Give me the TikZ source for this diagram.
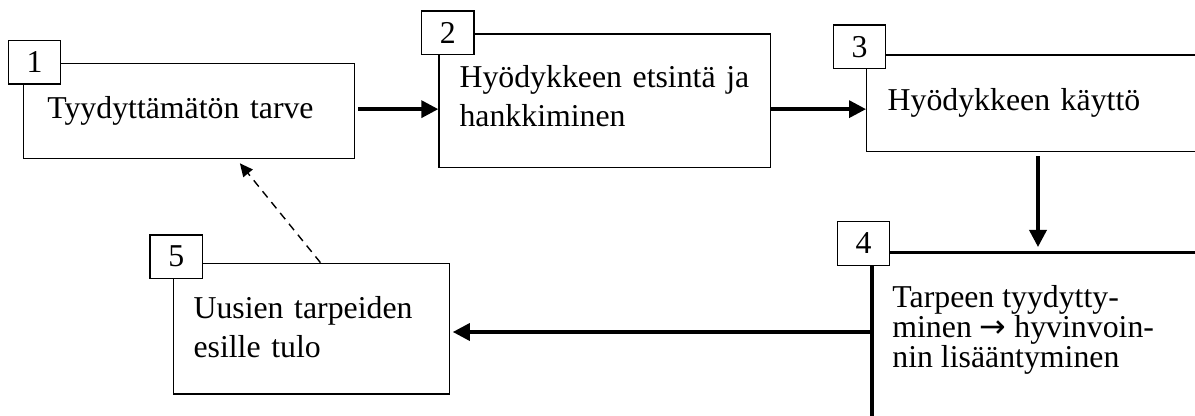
\documentclass[tikz,border=0pt]{standalone}
\usepackage{fontspec}
\setmainfont{Liberation Serif}
\newfontfamily\arrowfont{DejaVu Sans}
\usetikzlibrary{arrows.meta,positioning}
\tikzset{>=latex}

\begin{document}
\begin{tikzpicture}[x=0.5pt, y=-0.5pt, font=\fontsize{15.9}{19.4}\selectfont,
		box/.style={draw, line width=0.65pt, fill=white, anchor=north west, align=left, inner xsep=10.5pt, inner ysep=0pt, text depth=4pt},
		numbox/.style={draw, line width=0.65pt, fill=white, minimum width=26.2pt, minimum height=21.7pt, inner sep=0pt},
		flow/.style={-{Triangle[length=8.5pt,width=8.5pt]}, line width=1.75pt},
		back/.style={-{Triangle[length=6.5pt,width=6pt]}, line width=0.7pt, dash pattern=on 4pt off 3pt}]
		\useasboundingbox (0,0) rectangle (1195,416);
		\begin{scope}
		\clip (0,0) rectangle (1195,416);
		\node[box, inner xsep=12pt, text width=141.7pt, minimum height=47.5pt] (need) at (22.7,63) {Tyydyttämätön tarve};
		\node[box, inner xsep=10.3pt, text width=145.2pt, minimum height=66.7pt, text depth=23.9pt] (search) at (438.3,33.3) {Hyödykkeen etsintä ja\\hankkiminen};
		\node[box, text width=196pt, minimum height=48.2pt] (use) at (866,54.5) {Hyödykkeen käyttö};
		\node[draw, line width=1.75pt, anchor=north west, minimum width=215pt, minimum height=124.5pt] (satisfy) at (870,251) {};
		\node[anchor=north west, inner sep=0pt, align=left, font=\fontsize{15.9}{15}\selectfont] (satisfytext) at (892,285.5) {Tarpeen tyydytty-\\minen {\arrowfont →} hyvinvoin-\\nin lisääntyminen};
		\node[box, inner xsep=10.2pt, text width=117.8pt, minimum height=65.3pt, text depth=20.9pt] (new) at (172.5,262.7) {Uusien tarpeiden\\esille tulo};
		
		\node[numbox] (n1) at (34.5,62.4) {1};
		\node[numbox] (n2) at (447.8,32.7) {2};
		\node[numbox] (n3) at (859.5,46.7) {3};
		\node[numbox] (n4) at (863.5,243.5) {4};
		\node[numbox] (n5) at (176.3,256.7) {5};
		
		\draw[flow] ([xshift=1.5pt,yshift=1pt]need.east) -- ([yshift=1pt]need.east -| search.west);
		\draw[flow] ([yshift=1pt]need.east -| search.east) -- ([yshift=1pt]need.east -| use.west);
		\draw[flow] ([xshift=86pt,yshift=-2pt]use.south west) -- ([xshift=86pt,yshift=2pt]use.south west |- satisfy.north);
		\draw[flow] ([yshift=-40.5pt]satisfy.north west) -- ([xshift=1.3pt,yshift=-40.5pt]satisfy.north west -| new.east);
		\draw[back] ([xshift=74pt]new.north west) -- ([xshift=108.6pt,yshift=-2pt]need.south west);
		\end{scope}
	\end{tikzpicture}
\end{document}
